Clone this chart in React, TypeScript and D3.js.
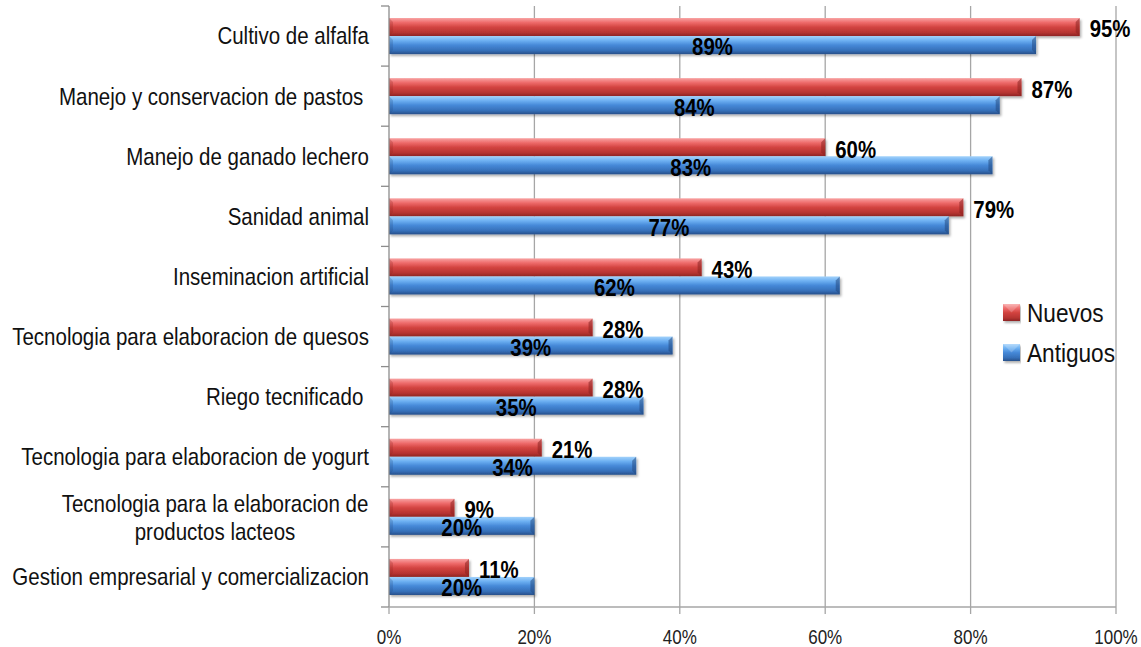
import React from "react";
import * as d3 from "d3";

const categories = [
  "Cultivo de alfalfa",
  "Manejo y conservacion de pastos ",
  "Manejo de ganado lechero",
  "Sanidad animal",
  "Inseminacion artificial",
  "Tecnologia para elaboracion de quesos",
  "Riego tecnificado ",
  "Tecnologia para elaboracion de yogurt",
  "Tecnologia para la elaboracion de\nproductos lacteos",
  "Gestion empresarial y comercializacion",
];
const nuevos = [95, 87, 60, 79, 43, 28, 28, 21, 9, 11];
const antiguos = [89, 84, 83, 77, 62, 39, 35, 34, 20, 20];
const xTicks = [0, 20, 40, 60, 80, 100];
const seriesNames = ["Nuevos", "Antiguos"];

const W = 1141;
const H = 647;
const M = { left: 389, right: 1116, top: 6, bottom: 607 };
const FONT = "'Liberation Sans', Arial, sans-serif";
const SX = 0.855;

const grads = {
  Nuevos: { id: "gRed", stops: ["#f8a3a3", "#ee6b6b", "#d34441", "#b73431", "#8e2523"], cap: "#8a2321" },
  Antiguos: { id: "gBlue", stops: ["#a3d2fb", "#6db0f2", "#4689d8", "#3670b9", "#274f8a"], cap: "#244a82" },
};

type NTProps = {
  x: number;
  y: number;
  size: number;
  anchor?: "start" | "middle" | "end";
  weight?: string;
  fill?: string;
  sx?: number;
  children: React.ReactNode;
};
function NText({ x, y, size, anchor = "start", weight = "normal", fill = "#111", sx = SX, children }: NTProps) {
  return (
    <g transform={`translate(${x},${y}) scale(${sx},1)`}>
      <text x={0} y={0} dy="0.35em" textAnchor={anchor} fontFamily={FONT} fontSize={size} fontWeight={weight} fill={fill} style={{ whiteSpace: "pre" }}>
        {children}
      </text>
    </g>
  );
}

export default function App() {
  const x = d3.scaleLinear().domain([0, 100]).range([M.left, M.right]);
  const y = d3.scaleBand<string>().domain(categories).range([M.top, M.bottom]).paddingInner(0.4).paddingOuter(0.2);
  const ys = d3.scaleBand<string>().domain(seriesNames).range([0, y.bandwidth()]);
  const step = y.step();
  const boundaries = d3.range(categories.length + 1).map((i) => M.top + i * step);

  const bar = (name: "Nuevos" | "Antiguos", cat: string, v: number, key: string) => {
    const y0 = (y(cat) ?? 0) + (ys(name) ?? 0);
    const h = ys.bandwidth();
    const x0 = x(0);
    const x1 = x(v);
    const g = grads[name];
    const bev = 4;
    return (
      <g key={key} filter="url(#shadow)">
        <rect x={x0} y={y0} width={x1 - x0} height={h} fill={`url(#${g.id})`} />
        <path
          d={`M${x1 - bev},${y0 + bev} L${x1},${y0} L${x1},${y0 + h} L${x1 - bev},${y0 + h - bev} Z`}
          fill={g.cap}
          opacity={0.55}
        />
        <path d={`M${x0},${y0} L${x0 + bev},${y0 + bev} L${x0 + bev},${y0 + h - bev} L${x0},${y0 + h} Z`} fill={g.cap} opacity={0.25} />
      </g>
    );
  };

  return (
    <svg width={W} height={H} style={{ position: "absolute", left: 0, top: 0, background: "#fff" }}>
      <defs>
        {Object.values(grads).map((g) => (
          <linearGradient key={g.id} id={g.id} x1="0" y1="0" x2="0" y2="1">
            <stop offset="0" stopColor={g.stops[0]} />
            <stop offset="0.25" stopColor={g.stops[1]} />
            <stop offset="0.5" stopColor={g.stops[2]} />
            <stop offset="0.8" stopColor={g.stops[3]} />
            <stop offset="1" stopColor={g.stops[4]} />
          </linearGradient>
        ))}
        <filter id="shadow" x="-5%" y="-30%" width="110%" height="180%">
          <feDropShadow dx="1.5" dy="2" stdDeviation="1.2" floodColor="#000" floodOpacity="0.3" />
        </filter>
      </defs>

      {/* gridlines */}
      {xTicks.slice(1).map((t) => (
        <line key={"g" + t} x1={x(t)} x2={x(t)} y1={M.top} y2={M.bottom} stroke="#a6a6a6" strokeWidth={1.3} />
      ))}

      {/* bars */}
      {categories.map((c, i) => (
        <g key={c}>
          {bar("Nuevos", c, nuevos[i], "n" + i)}
          {bar("Antiguos", c, antiguos[i], "a" + i)}
        </g>
      ))}

      {/* axes */}
      <line x1={M.left} x2={M.left} y1={M.top} y2={M.bottom} stroke="#8c8c8c" strokeWidth={1.3} />
      {boundaries.map((b, i) => (
        <line key={"yt" + i} x1={M.left - 8} x2={M.left} y1={b} y2={b} stroke="#8c8c8c" strokeWidth={1.3} />
      ))}
      <line x1={M.left} x2={M.right} y1={M.bottom} y2={M.bottom} stroke="#a6a6a6" strokeWidth={1.3} />
      {xTicks.map((t) => (
        <g key={"xt" + t}>
          <line x1={x(t)} x2={x(t)} y1={M.bottom} y2={M.bottom + 7} stroke="#a6a6a6" strokeWidth={1.3} />
          <NText x={x(t)} y={M.bottom + 30} size={20} anchor="middle" fill="#222" sx={0.85}>
            {t + "%"}
          </NText>
        </g>
      ))}

      {/* category labels */}
      {categories.map((c) => {
        const cy = (y(c) ?? 0) + y.bandwidth() / 2;
        const lines = c.split("\n");
        if (lines.length === 1) {
          return (
            <NText key={"l" + c} x={369} y={cy} size={24} anchor="end">
              {c}
            </NText>
          );
        }
        return (
          <g key={"l" + c}>
            {lines.map((ln, k) => (
              <NText key={k} x={215} y={cy - 13 + k * 28} size={24} anchor="middle">
                {ln}
              </NText>
            ))}
          </g>
        );
      })}

      {/* value labels */}
      {categories.map((c, i) => {
        const yn = (y(c) ?? 0) + (ys("Nuevos") ?? 0) + ys.bandwidth() / 2 + 2;
        const ya = (y(c) ?? 0) + (ys("Antiguos") ?? 0) + ys.bandwidth() / 2 + 2;
        return (
          <g key={"v" + i}>
            <NText x={x(nuevos[i]) + 10} y={yn} size={24} weight="bold" fill="#000" sx={0.85}>
              {nuevos[i] + "%"}
            </NText>
            <NText x={(x(0) + x(antiguos[i])) / 2} y={ya} size={24} weight="bold" fill="#000" anchor="middle" sx={0.85}>
              {antiguos[i] + "%"}
            </NText>
          </g>
        );
      })}

      {/* legend */}
      {seriesNames.map((s, k) => {
        const ly = 313 + k * 40;
        const g = grads[s as "Nuevos" | "Antiguos"];
        return (
          <g key={"lg" + s}>
            <rect x={1003} y={ly - 9} width={17} height={17} fill={`url(#${g.id})`} filter="url(#shadow)" />
            <path d={`M1003,${ly - 9} L1011.5,${ly - 0.5} L1020,${ly - 9} Z`} fill="#fff" opacity={0.2} />
            <NText x={1027} y={ly} size={26} fill="#111" sx={0.87}>
              {s}
            </NText>
          </g>
        );
      })}
    </svg>
  );
}
